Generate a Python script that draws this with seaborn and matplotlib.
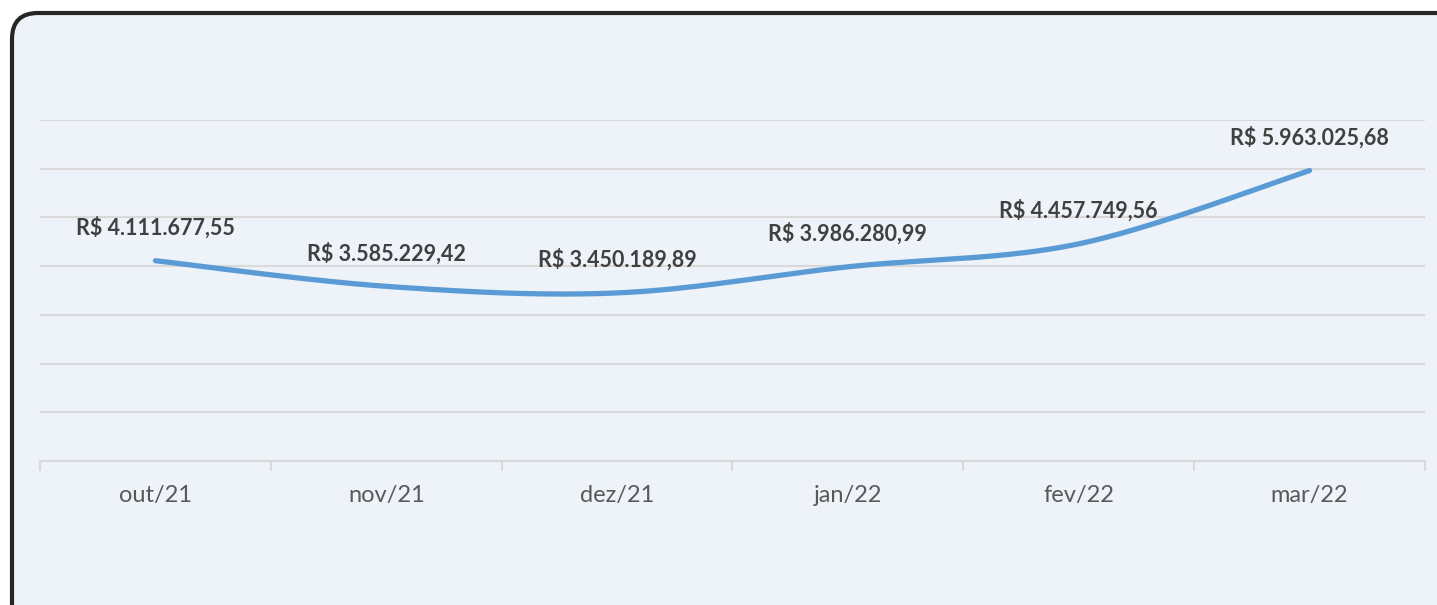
import numpy as np
import pandas as pd
import seaborn as sns
import matplotlib.pyplot as plt
from matplotlib.patches import FancyBboxPatch

months = ["out/21", "nov/21", "dez/21", "jan/22", "fev/22", "mar/22"]
values = [4111677.55, 3585229.42, 3450189.89, 3986280.99, 4457749.56, 5963025.68]


def brl(v):
    s = f"{v:,.2f}"
    s = s.replace(",", "#").replace(".", ",").replace("#", ".")
    return "R$ " + s


def smooth_curve(y, n=60):
    # Excel-like smoothed line: cubic bezier with catmull-rom control points
    x = np.arange(len(y), dtype=float)
    y = np.asarray(y, dtype=float)
    px = np.concatenate([[x[0]], x, [x[-1]]])
    py = np.concatenate([[y[0]], y, [y[-1]]])
    xs, ys = [], []
    t = np.linspace(0, 1, n)
    for i in range(1, len(px) - 2):
        p0 = np.array([px[i], py[i]])
        p3 = np.array([px[i + 1], py[i + 1]])
        c1 = p0 + (p3 - np.array([px[i - 1], py[i - 1]])) / 6
        c2 = p3 - (np.array([px[i + 2], py[i + 2]]) - p0) / 6
        b = ((1 - t) ** 3)[:, None] * p0 + (3 * (1 - t) ** 2 * t)[:, None] * c1 \
            + (3 * (1 - t) * t ** 2)[:, None] * c2 + (t ** 3)[:, None] * p3
        xs.extend(b[:, 0])
        ys.extend(b[:, 1])
    return np.array(xs), np.array(ys)


sns.set_style("white")
plt.rcParams['font.family'] = ['Lato', 'DejaVu Sans']

fig = plt.figure(figsize=(14.37, 6.05), dpi=100)
fig.patch.set_facecolor("white")

# rounded frame, in pixel coordinates
bg = fig.add_axes([0, 0, 1, 1], zorder=-1)
bg.set_xlim(0, 1437)
bg.set_ylim(605, 0)
bg.axis("off")
bg.add_patch(FancyBboxPatch((12, 13), 1460, 640,
                            boxstyle="round,pad=0,rounding_size=26",
                            facecolor="#EEF2F9", edgecolor="#262626", linewidth=3))

ax = fig.add_axes([40 / 1437, 1 - 461 / 605, 1385 / 1437, (461 - 120) / 605])
ax.set_facecolor("none")

cx, cy = smooth_curve(values)
curve = pd.DataFrame({"x": cx, "y": cy})
sns.lineplot(data=curve, x="x", y="y", ax=ax, color="#5B9BD5", linewidth=3.8,
             solid_capstyle="round", sort=False, estimator=None)

for i, v in enumerate(values):
    ax.annotate(brl(v), (i, v), xytext=(0, 33), textcoords="offset pixels",
                ha="center", va="center", fontsize=15.5, fontweight="bold",
                color="#404040")

ax.set_xlim(-0.5, len(months) - 0.5)
ax.set_ylim(0, 7000000)
ax.set_yticks(np.arange(1000000, 7000001, 1000000))
ax.yaxis.grid(True, color="#D9D9D9", linewidth=1.5)
ax.set_yticklabels([])
ax.tick_params(axis="y", length=0)

ax.set_xticks(range(len(months)))
ax.set_xticklabels(months, fontsize=17, color="#595959")
ax.set_xticks(np.arange(-0.5, len(months)), minor=True)
ax.tick_params(axis="x", which="major", bottom=True, length=0, pad=17)
ax.tick_params(axis="x", which="minor", bottom=True, length=7, width=1.5,
               color="#D9D9D9")
ax.set_xlabel("")
ax.set_ylabel("")

for s in ["top", "left", "right"]:
    ax.spines[s].set_visible(False)
ax.spines["bottom"].set_color("#D9D9D9")
ax.spines["bottom"].set_linewidth(1.5)

fig.savefig("out.png", dpi=100)
